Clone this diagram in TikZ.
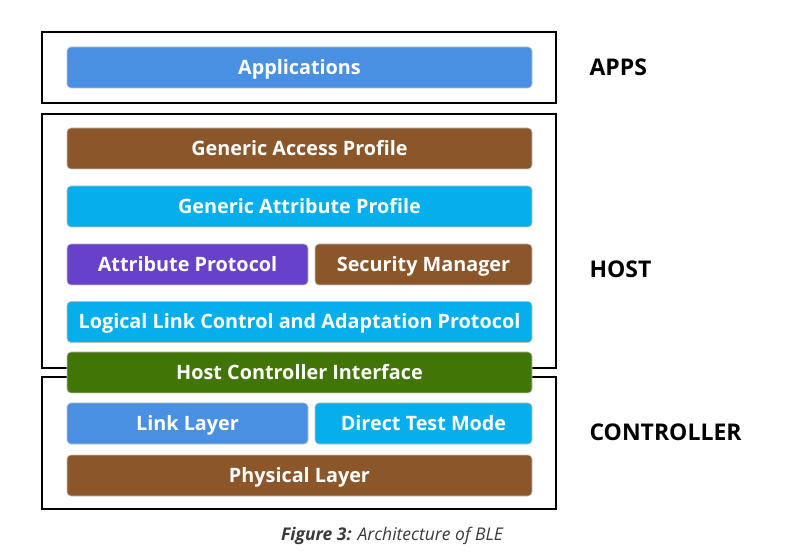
\documentclass[tikz,border=0pt]{standalone}
\usepackage{fontspec}
\setmainfont{Open Sans}
\usepackage{tikz}
\usetikzlibrary{positioning}
\definecolor{appblue}{HTML}{4A90E2}
\definecolor{brown}{HTML}{8B572A}
\definecolor{cyan}{HTML}{06AEEC}
\definecolor{purple}{HTML}{6841CA}
\definecolor{green}{HTML}{417505}
\definecolor{captiongray}{HTML}{3A3A3A}
\begin{document}
\begin{tikzpicture}[x=1pt,y=-1pt,
  bar/.style={draw=black!25,line width=0.6pt,rounded corners=4pt,minimum height=41pt,
    inner sep=0pt,text height=14.5pt,text depth=1pt,text=white,
    font=\fontsize{19.8}{22}\selectfont\bfseries},
  wide/.style={bar,minimum width=465pt},
  half/.style={bar,minimum width=#1},
  layer/.style={draw=black,line width=1.6pt},
  tag/.style={anchor=west,font=\fontsize{23}{26}\selectfont\bfseries}]
\useasboundingbox (0,0) rectangle (793,553);
% outer boxes
\draw[layer] (42,32) rectangle (556,103);
\draw[layer] (42,114) rectangle (556,368);
\draw[layer] (42,377) rectangle (556,509);
% apps
\node [wide,fill=appblue] (app) at (299.5,67.5) {Applications};
% host
\node [wide,fill=brown] (gap) at (299.5,148.5) {Generic Access Profile};
\node [wide,fill=cyan] (gatt) at (299.5,206.5) {Generic Attribute Profile};
\node [half=241pt,fill=purple] (att) at (187.5,264.5) {Attribute Protocol};
\node [half=217pt,fill=brown] (sm) at (423.5,264.5) {Security Manager};
\node [wide,fill=cyan] (l2cap) at (299.5,322) {Logical Link Control and Adaptation Protocol};
% hci
\node [wide,fill=green] (hci) at (299.5,372.5) {Host Controller Interface};
% controller
\node [half=241pt,fill=appblue] (ll) at (187.5,423.5) {Link Layer};
\node [half=217pt,fill=cyan] (dtm) at (423.5,423.5) {Direct Test Mode};
\node [wide,fill=brown] (phy) at (299.5,475.5) {Physical Layer};
% labels
\node [tag] (apps) at (586,67) {APPS};
\node [tag] (host) at (586,269) {HOST};
\node [tag] (ctrl) at (586,432) {CONTROLLER};
\node [text=captiongray,font=\fontsize{17.5}{20}\selectfont\itshape] (cap) at (392,536)
  {\textbf{Figure 3:} Architecture of BLE};
\end{tikzpicture}
\end{document}
